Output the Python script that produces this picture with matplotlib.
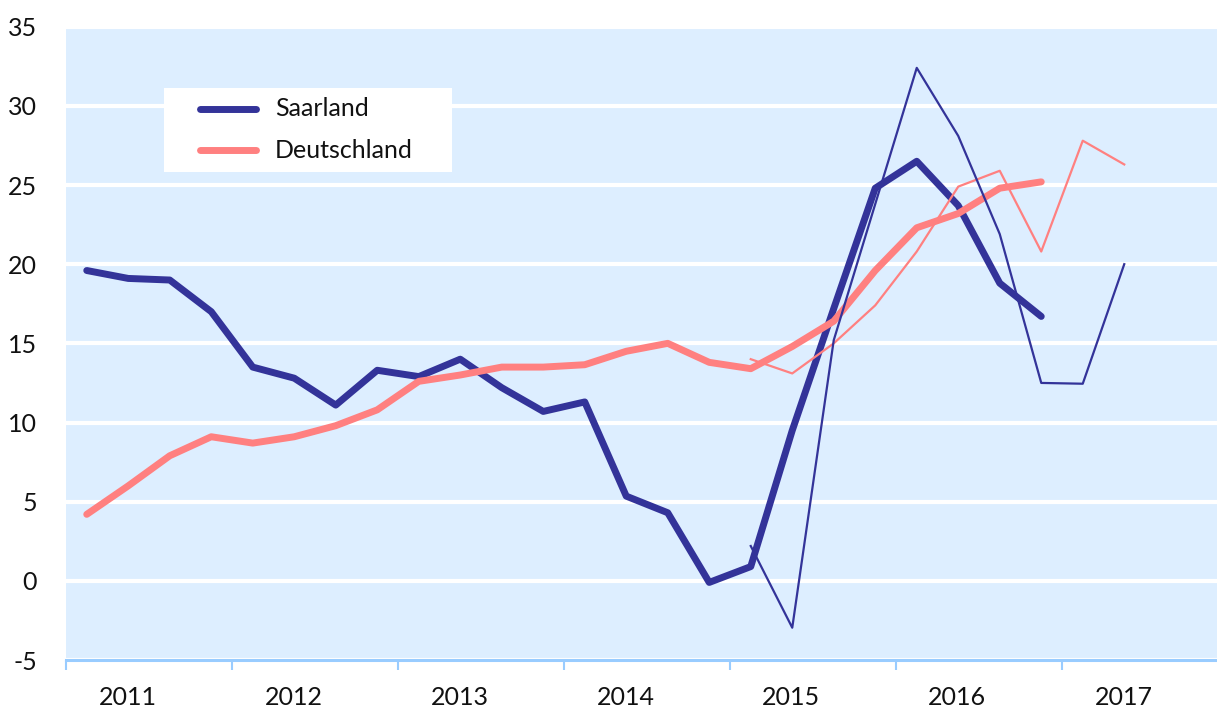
import matplotlib
matplotlib.use("Agg")
import matplotlib.pyplot as plt
from matplotlib.patches import Rectangle
from matplotlib.lines import Line2D
import numpy as np

# ---- data (quarterly values, % change) ----
years = ["2011", "2012", "2013", "2014", "2015", "2016", "2017"]

saar_thick = [19.6, 19.1, 19.0, 17.0,
              13.5, 12.8, 11.1, 13.3,
              12.9, 14.0, 12.2, 10.7,
              11.3, 5.35, 4.3, -0.1,
              0.9, 9.5, 17.2, 24.8,
              26.5, 23.7, 18.8, 16.7]
de_thick = [4.2, 6.0, 7.9, 9.1,
            8.7, 9.1, 9.8, 10.8,
            12.6, 13.0, 13.5, 13.5,
            13.65, 14.5, 15.0, 13.8,
            13.4, 14.8, 16.4, 19.6,
            22.3, 23.2, 24.8, 25.2]

# thin lines start in 2015 Q1 (quarter index 16)
thin_start = 16
saar_thin = [2.2, -2.96, 15.2, 23.8, 32.4, 28.1, 21.9, 12.5, 12.45, 20.0]
de_thin = [14.0, 13.1, 15.0, 17.4, 20.8, 24.9, 25.9, 20.8, 27.8, 26.3]

series_names = ["Saarland", "Deutschland"]

col_saar = "#333399"
col_de = "#ff8080"
bg = "#ddeeff"
axis_col = "#99ccff"

first_year = int(years[0])

def qx(start, n):
    return np.array([first_year + (start + i + 0.5) / 4.0 for i in range(n)])

plt.rcParams['font.family'] = ['Lato', 'DejaVu Sans']

W, H = 1217, 711
fig = plt.figure(figsize=(W / 100, H / 100), dpi=100)
ax_l, ax_r, ax_t, ax_b = 66, 1217, 26.7, 660
ax = fig.add_axes([ax_l / W, (H - ax_b) / H, (ax_r - ax_l) / W, (ax_b - ax_t) / H])
ax.set_facecolor(bg)

ax.set_ylim(-5, 35)
ax.set_xlim(first_year, first_year + (ax_r - ax_l) / 166)

ax.set_yticks(np.arange(-5, 36, 5))
ax.set_yticklabels([str(v) for v in range(-5, 36, 5)])
ax.yaxis.grid(True, color="white", linewidth=3)
ax.set_axisbelow(True)
ax.tick_params(axis="y", length=0, pad=21, labelsize=18, colors="#111111")

# year boundaries as major ticks, labels at minor ticks
ax.set_xticks([first_year + i for i in range(len(years))])
ax.set_xticklabels([])
ax.set_xticks([first_year + i + 0.37 for i in range(len(years))], minor=True)
ax.set_xticklabels(years, minor=True)
ax.tick_params(axis="x", which="major", length=7, width=1.5, color=axis_col)
ax.tick_params(axis="x", which="minor", length=0, pad=19, labelsize=18, labelcolor="#111111")

for s in ["top", "right", "left"]:
    ax.spines[s].set_visible(False)
ax.spines["bottom"].set_color(axis_col)
ax.spines["bottom"].set_linewidth(2.2)

ax.plot(qx(0, len(saar_thick)), saar_thick, color=col_saar, lw=5,
        solid_capstyle="round", solid_joinstyle="round", zorder=3)
ax.plot(qx(thin_start, len(de_thin)), de_thin, color=col_de, lw=1.6, zorder=4)
ax.plot(qx(0, len(de_thick)), de_thick, color=col_de, lw=5,
        solid_capstyle="round", solid_joinstyle="round", zorder=5)
ax.plot(qx(thin_start, len(saar_thin)), saar_thin, color=col_saar, lw=1.6, zorder=6)

# ---- legend (white box with two entries) ----
def px2ax(x, y):
    return ((x - ax_l) / (ax_r - ax_l), (ax_b - y) / (ax_b - ax_t))

bx0, by0 = px2ax(164, 172)
bx1, by1 = px2ax(452, 88)
ax.add_patch(Rectangle((bx0, by0), bx1 - bx0, by1 - by0, transform=ax.transAxes,
                       facecolor="white", edgecolor="none", zorder=7))
for name, col, ypix in [(series_names[0], col_saar, 109), (series_names[1], col_de, 150)]:
    x0, yy = px2ax(200, ypix)
    x1, _ = px2ax(256, ypix)
    ax.add_line(Line2D([x0, x1], [yy, yy], transform=ax.transAxes, color=col, lw=5,
                       solid_capstyle="round", zorder=8))
    tx, _ = px2ax(275, ypix)
    ax.text(tx, yy, name, transform=ax.transAxes, fontsize=18, color="#111111",
            va="center", ha="left", zorder=8)

fig.savefig("out.png", dpi=100)
